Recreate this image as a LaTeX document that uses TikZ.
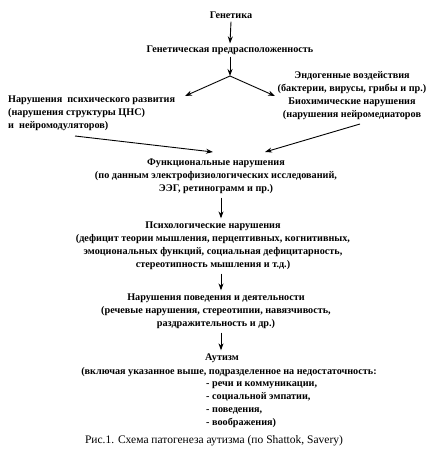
\documentclass[tikz,border=0pt]{standalone}
\usepackage{fontspec}
\setmainfont{Liberation Serif}
\usetikzlibrary{arrows.meta}
\begin{document}
\begin{tikzpicture}[x=1pt,y=1pt,
  t/.style={font=\bfseries\fontsize{10.2}{13}\selectfont, inner sep=0pt, align=center},
  tl/.style={t, align=left},
  captxt/.style={font=\fontsize{11.5}{13}\selectfont, inner sep=0pt},
  arr/.style={-{Stealth[length=7pt,width=5pt]}, line width=0.9pt}]
\useasboundingbox (0,0) rectangle (436,-454);
\node[t] (gen) at (231,-15) {Генетика};
\node[t] (pred) at (230,-50) {Генетическая предрасположенность};
\coordinate (j) at (230,-76);
\node[t] (endo) at (352,-95.5) {Эндогенные воздействия\\(бактерии, вирусы, грибы и пр.)\\Биохимические нарушения\\(нарушения нейромедиаторов};
\node[tl, anchor=west] (psy) at (8,-113) {Нарушения \ психического развития\\(нарушения структуры ЦНС)\\и \ нейромодуляторов)};
\coordinate (lt) at (185,-96);
\coordinate (rt) at (275,-96);
\coordinate (ls) at (75,-136);
\coordinate (le) at (213,-152);
\coordinate (rs) at (360,-124);
\coordinate (re) at (265,-152);
\coordinate (ax) at (221,0);
\node[t] (func) at (216,-176) {Функциональные нарушения\\(по данным электрофизиологических исследований,\\ЭЭГ, ретинограмм и пр.)};
\node[t] (psych) at (213,-245.5) {Психологические нарушения\\(дефицит теории мышления, перцептивных, когнитивных,\\эмоциональных функций, социальная дефицитарность,\\стереотипность мышления и т.д.)};
\node[t] (beh) at (216,-311) {Нарушения поведения и деятельности\\(речевые нарушения, стереотипии, навязчивость,\\раздражительность и др.)};
\node[t] (aut) at (222,-358) {Аутизм};
\node[t] (incl) at (229,-372) {(включая указанное выше, подразделенное на недостаточность:};
\node[tl, anchor=west] (list) at (206,-404.5) {- речи и коммуникации,\\- социальной эмпатии,\\- поведения,\\- воображения)};
\node[captxt] (capt) at (214,-441) {Рис.1. Схема патогенеза аутизма (по Shattok, Savery)};
\draw[arr] ([yshift=-3pt]gen.south) -- ([yshift=2pt]pred.north);
\draw[arr] ([yshift=-2pt]pred.south) -- (j);
\draw[arr] (j) -- (lt);
\draw[arr] (j) -- (rt);
\draw[arr] (ls) -- (le);
\draw[arr] (rs) -- (re);
\draw[arr] ([yshift=-4pt]func.south -| ax) -- ([yshift=3pt]psych.north -| ax);
\draw[arr] ([yshift=-4pt]psych.south -| ax) -- ([yshift=3pt]beh.north -| ax);
\draw[arr] ([yshift=-4pt]beh.south -| ax) -- ([yshift=3pt]aut.north -| ax);
\end{tikzpicture}
\end{document}
